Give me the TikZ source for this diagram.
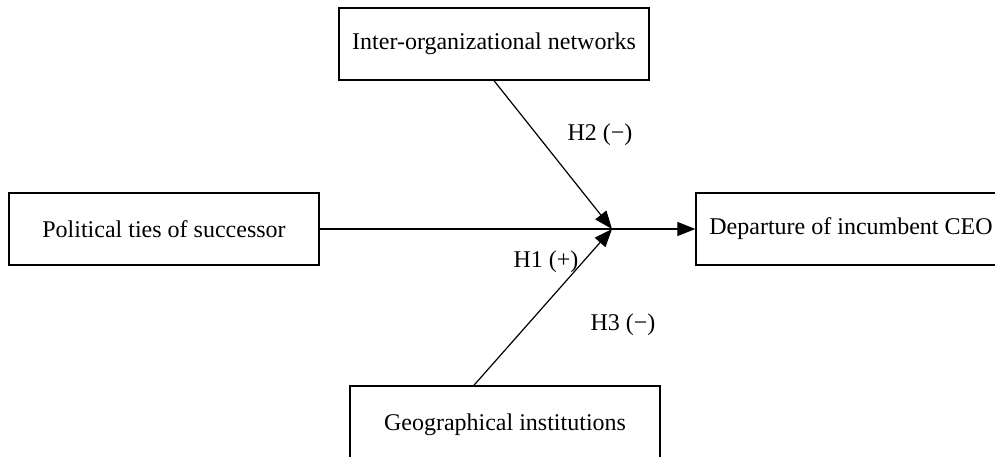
\documentclass[tikz,border=0pt]{standalone}
\usepackage{fontspec}
\setmainfont{Liberation Serif}
\usetikzlibrary{arrows.meta,positioning,calc}

\begin{document}
\begin{tikzpicture}[
    x=0.5pt, y=-0.5pt,
    var/.style={rectangle, draw, line width=0.65pt, minimum width=155pt, minimum height=36pt, align=center, font=\fontsize{12}{14}\selectfont, inner sep=0pt},
    hyp/.style={font=\fontsize{12}{14}\selectfont, inner sep=0pt},
    link/.style={line width=0.6pt, -{Triangle[length=9pt, width=7pt]}}
]
\clip (0,0) rectangle (995,456);

\node[var] (net) at (494,44) {Inter-organizational networks};
\node[var] (pol) at (164,229) {Political ties of successor};
\node[var] (ceo) at (851,229) {Departure of incumbent CEO};
\node[var, minimum height=39pt] (geo) at (505,425) {Geographical institutions};
\coordinate (j) at (612,229);

\draw[line width=0.6pt] (pol.east) -- (j);
\draw[link] (j) -- (ceo.west);
\draw[link] (net.south) -- (j);
\draw[link] ($(geo.north west)!0.4!(geo.north east)$) -- (j);

\node[hyp] (h2) at (600,135) {H2 (−)};
\node[hyp] (h1) at (546,262) {H1 (+)};
\node[hyp] (h3) at (623,325) {H3 (−)};

\end{tikzpicture}
\end{document}
